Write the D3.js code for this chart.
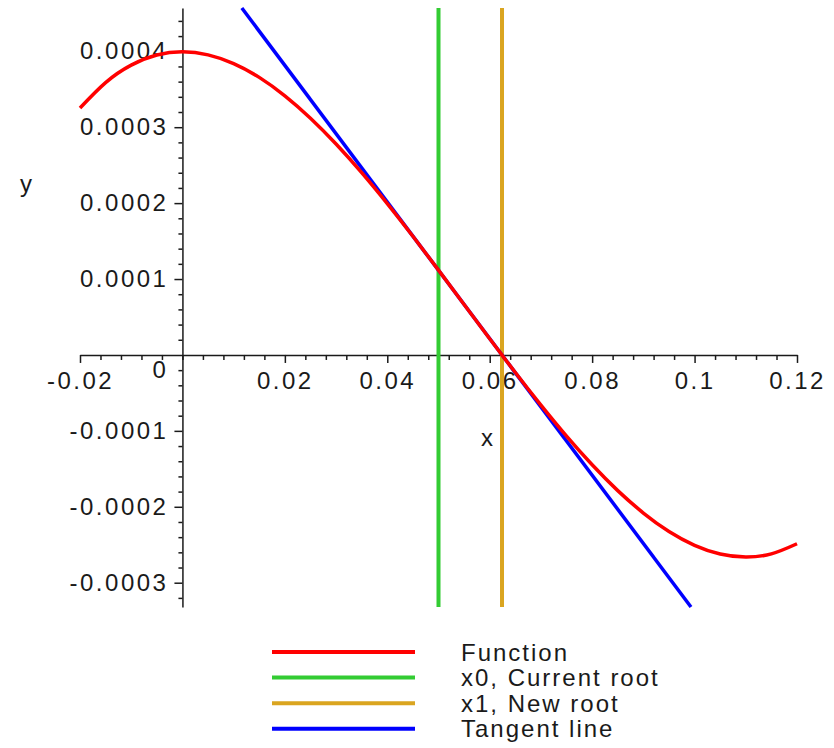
<!DOCTYPE html>
<html>
<head>
<meta charset="utf-8">
<script src="https://cdn.jsdelivr.net/npm/d3@7"></script>
<style>
  body { margin: 0; background: #fff; }
  text { font-family: "Liberation Sans", Arial, sans-serif; font-size: 24px; fill: #1a1a1a; letter-spacing: 2.5px; }
</style>
</head>
<body>
<div id="chart"></div>
<script>
// data
var xValues = [-0.02, -0.015, -0.01, -0.005, 0, 0.005, 0.01, 0.015, 0.02, 0.025, 0.03, 0.035,
  0.04, 0.045, 0.05, 0.055, 0.06, 0.065, 0.07, 0.075, 0.08, 0.085, 0.09, 0.095, 0.1, 0.105,
  0.11, 0.115, 0.12];
var fValues = [0.0003253, 0.0003588, 0.0003818, 0.0003951, 0.0003993, 0.0003953, 0.0003838,
  0.0003656, 0.0003413, 0.0003118, 0.0002778, 0.0002401, 0.0001993, 0.0001563, 0.0001118,
  0.00006655, 0.0000213, -0.0000232, -0.0000662, -0.0001070, -0.0001447, -0.0001787,
  -0.0002082, -0.0002325, -0.0002507, -0.0002622, -0.0002662, -0.0002620, -0.0002487];
var tangentX = [0.0116, 0.0993];
var tangentY = [0.000457, -0.000332];
var x0Root = 0.05;
var x1Root = 0.0624;

var xDomain = [-0.02, 0.12];
var yDomain = [-0.000332, 0.000457];

var xTickValues = [-0.02, 0.02, 0.04, 0.06, 0.08, 0.1, 0.12];
var xTickLabels = ["-0.02", "0.02", "0.04", "0.06", "0.08", "0.1", "0.12"];
var yTickValues = [-0.0003, -0.0002, -0.0001, 0.0001, 0.0002, 0.0003, 0.0004];
var yTickLabels = ["-0.0003", "-0.0002", "-0.0001", "0.0001", "0.0002", "0.0003", "0.0004"];

var legendNames = ["Function", "x0, Current root", "x1, New root", "Tangent line"];
var legendColors = ["#ff0000", "#33cc33", "#daa520", "#0000ff"];

var svgWidth = 834;
var svgHeight = 748;

var svg = d3.select("#chart")
  .append("svg")
  .attr("width", svgWidth)
  .attr("height", svgHeight);

var xScale = d3.scaleLinear().domain(xDomain).range([80, 797]);
var yScale = d3.scaleLinear().domain(yDomain).range([607, 8]);

var x0 = xScale(0);
var y0 = yScale(0);

// minor ticks
var xMinor = d3.range(-0.02, 0.1201, 0.004).filter(function (v) {
  return !xTickValues.some(function (t) { return Math.abs(t - v) < 1e-9; });
});
var yMinor = d3.range(-0.00032, 0.000457, 0.00002).filter(function (v) {
  return Math.abs(v / 0.0001 - Math.round(v / 0.0001)) > 1e-6;
});

svg.append("g")
  .attr("transform", `translate(0, ${y0})`)
  .call(d3.axisBottom(xScale).tickValues(xMinor).tickSize(5).tickSizeOuter(0).tickFormat(""))
  .call(g => g.select(".domain").remove());

svg.append("g")
  .attr("transform", `translate(${x0}, 0)`)
  .call(d3.axisLeft(yScale).tickValues(yMinor).tickSize(4).tickSizeOuter(0).tickFormat(""))
  .call(g => g.select(".domain").remove());

// major axes
var xAxisG = svg.append("g")
  .attr("class", "x_axis")
  .attr("transform", `translate(0, ${y0})`)
  .call(d3.axisBottom(xScale)
    .tickValues(xTickValues)
    .tickSize(8)
    .tickSizeOuter(0)
    .tickPadding(9)
    .tickFormat((d, i) => xTickLabels[i]));

var yAxisG = svg.append("g")
  .attr("class", "y_axis")
  .attr("transform", `translate(${x0}, 0)`)
  .call(d3.axisLeft(yScale)
    .tickValues(yTickValues)
    .tickSize(8)
    .tickSizeOuter(0)
    .tickPadding(6)
    .tickFormat((d, i) => yTickLabels[i]));

svg.selectAll(".x_axis, .y_axis")
  .attr("font-size", null)
  .attr("font-family", null);
svg.selectAll(".x_axis path, .x_axis line, .y_axis path, .y_axis line, .tick line")
  .attr("stroke", "#1a1a1a")
  .attr("stroke-width", 1.5);

svg.append("text")
  .attr("x", x0 - 14)
  .attr("y", y0 + 23)
  .attr("text-anchor", "end")
  .text("0");

svg.append("text")
  .attr("x", 20)
  .attr("y", 192)
  .text("y");

svg.append("text")
  .attr("x", 481)
  .attr("y", 446)
  .text("x");

// vertical root lines
[x0Root, x1Root].forEach(function (r, i) {
  svg.append("line")
    .attr("x1", xScale(r))
    .attr("x2", xScale(r))
    .attr("y1", yScale(yDomain[1]))
    .attr("y2", yScale(yDomain[0]))
    .attr("stroke", legendColors[i + 1])
    .attr("stroke-width", 4);
});

// tangent line
svg.append("line")
  .attr("x1", xScale(tangentX[0]))
  .attr("y1", yScale(tangentY[0]))
  .attr("x2", xScale(tangentX[1]))
  .attr("y2", yScale(tangentY[1]))
  .attr("stroke", legendColors[3])
  .attr("stroke-width", 3.5);

// function curve
var line = d3.line()
  .x(function (d, i) { return xScale(xValues[i]); })
  .y(function (d) { return yScale(d); })
  .curve(d3.curveNatural);

svg.append("path")
  .datum(fValues)
  .attr("d", line)
  .attr("fill", "none")
  .attr("stroke", legendColors[0])
  .attr("stroke-width", 3.5);

// legend
var legend = svg.selectAll(".legend")
  .data(legendNames)
  .enter()
  .append("g")
  .attr("class", "legend")
  .attr("transform", (d, i) => `translate(0, ${652 + i * 25.6})`);

legend.append("line")
  .attr("x1", 272)
  .attr("x2", 415)
  .attr("stroke", (d, i) => legendColors[i])
  .attr("stroke-width", 4);

legend.append("text")
  .attr("x", 461)
  .attr("dy", "0.36em")
  .style("letter-spacing", "2px")
  .text(d => d);
</script>
</body>
</html>
